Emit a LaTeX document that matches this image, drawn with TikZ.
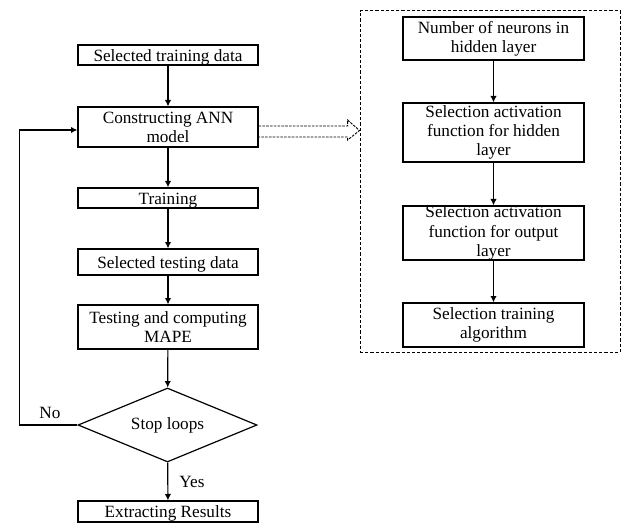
\documentclass[tikz,border=0pt]{standalone}
\usepackage{fontspec}
\setmainfont{Liberation Serif}
\usetikzlibrary{shapes.geometric,arrows.meta,calc}
\begin{document}
\begin{tikzpicture}[x=0.5pt,y=-0.5pt,
  txt/.style={font=\fontsize{8.6}{9.6}\selectfont},
  box/.style={txt,draw,line width=0.6pt,inner sep=0pt,align=center,minimum width=#1,
    execute at begin node={\rule{0pt}{8.2pt}}},
  box/.default=90pt,
  dec/.style={txt,draw,line width=0.6pt,shape=diamond,shape aspect=2.4,inner sep=0pt,minimum width=89.5pt,minimum height=37pt},
  arr/.style={line width=0.6pt,-{Latex[length=3.2pt,width=3.2pt]}},
  grpbox/.style={draw,line width=0.5pt,dash pattern=on 1.6pt off 1pt,minimum width=130pt,minimum height=170.5pt,inner sep=0pt},
  hollow/.style={line width=0.45pt,dash pattern=on 1.3pt off 0.6pt}
]
\useasboundingbox (0,0) rectangle (624,523);

% left column
\node[box,minimum height=10pt] (a) at (168,55) {Selected training data};
\node[box,minimum height=20pt] (b) at (168,127) {Constructing ANN\\model};
\node[box,minimum height=10pt] (c) at (168,198) {Training};
\node[box,minimum height=13pt] (d) at (168,262) {Selected testing data};
\node[box,minimum height=22pt] (e) at (168,327) {Testing and computing\\MAPE};
\node[dec] (f) at (167.5,425) {Stop loops};
\node[box,minimum height=10.5pt] (g) at (168,511.5) {Extracting Results};

\draw[arr] (a) -- (b);
\draw[arr] (b) -- (c);
\draw[arr] (c) -- (d);
\draw[arr] (d) -- (e);
\draw[arr] (e) -- (f);
\draw[arr] (f) -- (g);
\draw[arr] (f.west) -- ++(-58,0) |- ($(b.west)+(0,3)$);

\node[txt] (no) at (50,413) {No};
\node[txt] (yes) at (192,482) {Yes};

% right group
\node[grpbox] (grp) at (490,181.5) {};
\node[box=90.5pt,minimum height=21.5pt] (r1) at (493.5,38.5) {Number of neurons in\\hidden layer};
\node[box=90.5pt,minimum height=29.5pt] (r2) at (493.5,132.5) {Selection activation\\function for hidden\\layer};
\node[box=90.5pt,minimum height=26pt] (r3) at (493.5,233) {Selection activation\\function for output\\layer};
\node[box=90.5pt,minimum height=22pt] (r4) at (493.5,325) {Selection training\\algorithm};

\draw[arr] (r1) -- (r2);
\draw[arr] (r2) -- (r3);
\draw[arr] (r3) -- (r4);

% hollow dashed arrow
\draw[hollow] ($(b.east)+(0,-1)$) -- ++(89,0) -- ++(0,-6) -- ($(grp.west)+(0,-51)$)
  -- ($(b.east)+(89,13)$) -- ++(0,-3) -- ($(b.east)+(0,10)$);
\end{tikzpicture}
\end{document}
